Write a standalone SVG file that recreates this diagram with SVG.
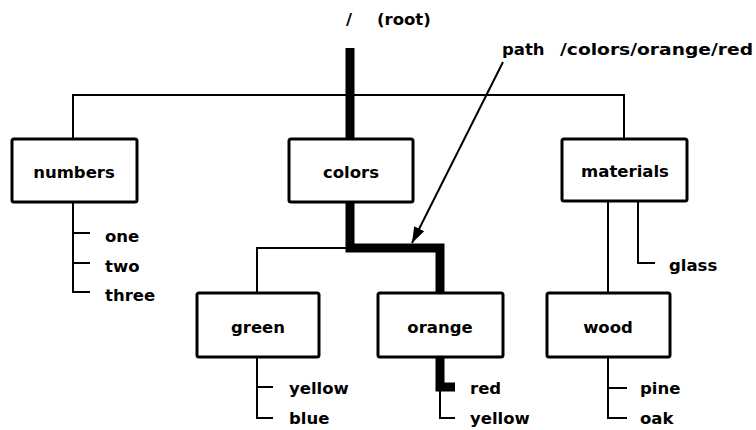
<svg xmlns="http://www.w3.org/2000/svg" width="756" height="430" viewBox="0 0 756 430">
<style>
.box{fill:#fff;stroke:#000;stroke-width:3}
.ln{fill:none;stroke:#000;stroke-width:2}
.thick{fill:none;stroke:#000;stroke-width:9;stroke-linejoin:miter}
text{font-family:"DejaVu Sans","Liberation Sans",sans-serif;font-weight:bold;font-size:16.5px;fill:#000}
.c{text-anchor:middle}
</style>
<defs>
<marker id="arr" viewBox="0 0 10 10" refX="10" refY="5" markerWidth="8" markerHeight="8" orient="auto" markerUnits="strokeWidth">
<path d="M0,1.5 L10,5 L0,8.5 z" fill="#000"/>
</marker>
</defs>
<rect width="756" height="430" fill="#fff"/>
<g id="connectors">
<path class="ln" d="M73,139 V95 H624 V139"/>
<path class="thick" d="M350,48 V139"/>
<path class="ln" d="M73,202 V292 H90 M73,233 H90 M73,263 H90"/>
<path class="thick" d="M350,202 V248 H440 V293"/>
<path class="ln" d="M346,248 H257 V293"/>
<path class="ln" d="M257,357 V418 H273 M257,387 H273"/>
<path class="thick" d="M440,357 V387 H455"/>
<path class="ln" d="M440,390 V418 H455"/>
<path class="ln" d="M608,202 V293"/>
<path class="ln" d="M638,202 V263 H655"/>
<path class="ln" d="M608,357 V418 H627 M608,388 H627"/>
<line class="ln" x1="503" y1="62" x2="412" y2="243" marker-end="url(#arr)"/>
</g>
<g id="root"><text x="346" y="25">/</text><text x="377" y="25">(root)</text></g>
<g id="path-label"><text x="502" y="55">path</text><text x="560" y="55" textLength="193" lengthAdjust="spacingAndGlyphs">/colors/orange/red</text></g>
<g id="numbers"><rect class="box" x="12" y="139" width="125" height="63" rx="2"/><text class="c" x="74" y="178">numbers</text></g>
<g id="one"><text x="105" y="242">one</text></g>
<g id="two"><text x="105" y="272">two</text></g>
<g id="three"><text x="105" y="301">three</text></g>
<g id="colors"><rect class="box" x="289" y="139" width="124" height="63" rx="2"/><text class="c" x="351" y="178">colors</text></g>
<g id="materials"><rect class="box" x="562" y="139" width="125" height="62" rx="2"/><text class="c" x="625" y="177">materials</text></g>
<g id="glass"><text x="669" y="271">glass</text></g>
<g id="green"><rect class="box" x="197" y="293" width="122" height="64" rx="2"/><text class="c" x="258" y="333">green</text></g>
<g id="green-yellow"><text x="289" y="394">yellow</text></g>
<g id="blue"><text x="289" y="424">blue</text></g>
<g id="orange"><rect class="box" x="378" y="293" width="125" height="64" rx="2"/><text class="c" x="440" y="333">orange</text></g>
<g id="red"><text x="470" y="394">red</text></g>
<g id="orange-yellow"><text x="470" y="424">yellow</text></g>
<g id="wood"><rect class="box" x="547" y="293" width="123" height="64" rx="2"/><text class="c" x="608" y="333">wood</text></g>
<g id="pine"><text x="640" y="394">pine</text></g>
<g id="oak"><text x="640" y="424">oak</text></g>
</svg>
